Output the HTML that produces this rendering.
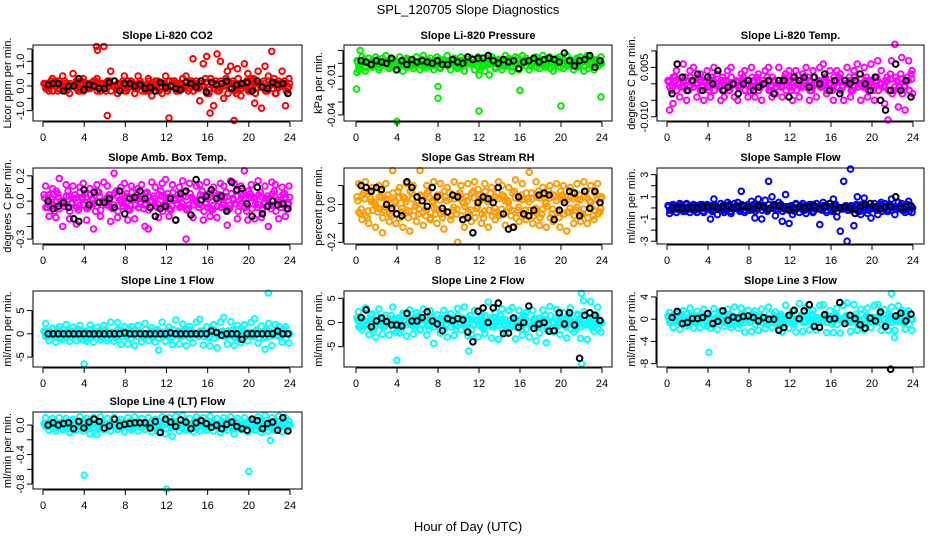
<!DOCTYPE html>
<html><head><meta charset="utf-8"><style>
html,body{margin:0;padding:0;background:#fff;}
svg{display:block;font-family:"Liberation Sans",sans-serif;}
</style></head><body>
<svg id="chart" width="936" height="540" viewBox="0 0 936 540" xmlns="http://www.w3.org/2000/svg">
<rect width="936" height="540" fill="#fff"/>
<text x="468" y="14" font-size="13" text-anchor="middle">SPL_120705  Slope Diagnostics</text>
<text x="468" y="531" font-size="13" text-anchor="middle">Hour of Day (UTC)</text>
</svg>
<script>
const xTicks = [0,4,8,12,16,20,24];
// Panel 1: CO2
const co2Main=[0.1,-0.1,0.2,0,-0.2,0.1,0.2,-0.1,0,0.1,-0.2,0.2,0.1,-0.1,0,0.2,-0.1,0.1,-0.2,0.2,0,-0.1,0.1,0.2,-0.2,0,0.1,-0.1,0.2,0,-0.2,0.1,0,0.2,-0.1,0.1,-0.2,0,0.2,-0.1,0.1,0,-0.2,0.2,0.1,-0.1,0,0.3,-0.3,0.1,0.2,-0.2,0,0.3,-0.1,0.2,-0.3,0.1,0,0.2,-0.2,0.3,-0.1,0,0.2,-0.2,0.1,0.3,-0.1,0,0.2,-0.1];
const co2Spread=[0.1,-0.2,0.3,0.2,-0.1,0.4,0.1,-0.3,0.5,0.2,-0.2,0.3,0.1,-0.1,0.2,0.3,-0.2,1.6,-1.2,0.6,0.2,-0.3,0.1,0.4,-0.1,0.2,-0.3,0.4,0.1,-0.2,0.3,-0.4,0.2,0.1,-0.3,0.4,-1.3,0.2,0.1,-0.2,0.3,0.4,-0.1,1.1,0.2,-0.6,0.9,1.2,-1.1,-0.8,1.3,1.0,-0.5,0.6,0.8,-1.4,0.7,-0.4,0.9,0.5,0.3,-0.7,0.6,-0.9,0.8,0.4,1.4,-0.3,0.2,0.6,-0.8,0.3];
const co2Black=[0.05,0.1,0.1,-0.2,0,0,0.3,-0.15,0.05,0.0,-0.1,-0.1,0.15,0.2,-0.2,0.1,0.1,0,0.05,-0.1,-0.05,-0.2,0.15,-0.05,0,-0.1,-0.15,0.15,0.1,-0.05,0.2,-0.25,0.15,0.05,0.1,0.2,-0.1,0.05,0.1,0.15,-0.2,0.2,-0.05,-0.1,0.15,0.05,0.1,-0.3];
const co2OutH=[5.2,5.3], co2OutV=[1.6,1.45];
// Panel 2: Pressure
const presMain=[0.002,-0.001,0.003,0,-0.002,0.001,0.003,-0.001,0.002,0.001,-0.003,0.002,0,-0.001,0.003,0.002,-0.002,0.001,0,0.003,-0.001,0.002,0.001,-0.002,0.003,0,0.002,-0.001,0.001,0.003,-0.002,0.002,0,0.001,-0.001,0.003,0.002,-0.002,0.001,0,0.003,-0.001,0.002,0.001,-0.002,0.003,0,0.004,-0.001,0.002,0.001,-0.002,0.003,0,0.002,-0.001,0.004,0.001,-0.002,0.003,0,0.002,-0.001,0.001,0.003,-0.002,0.002,0.004,-0.001,0.003,0.002,0];
const presSpread=[-0.005,0.005,-0.006,0.004,-0.003,0.005,-0.005,0.004,0.006,-0.004,0.003,-0.005,0.005,-0.006,0.004,0.003,-0.004,0.005,-0.005,0.006,-0.003,0.004,-0.005,0.005,-0.004,0.003,0.006,-0.005,0.004,-0.004,0.005,-0.006,0.003,0.004,-0.005,0.005,-0.003,-0.006,0.004,0.005,-0.004,0.003,-0.005,0.006,0.004,-0.006,0.005,-0.005,0.006,0.004,-0.005,0.003,0.005,-0.004,0.006,-0.003,0.005,-0.006,0.004,0.005,-0.004,0.006,0.003,-0.005,0.004,0.005,-0.006,0.006,0.004,-0.005,0.003,0.005];
const presBlack=[0.002,0.001,-0.001,0.002,0.001,0,0.004,-0.005,0.002,-0.001,0.003,0.001,0.002,0.001,0,0.002,-0.001,-0.001,0.003,0.001,0,0.005,0.003,0.004,0.004,0.006,0.002,0,0.003,0.001,0.002,-0.004,0.001,0.002,0.004,0.001,0.003,0.004,0.003,0.001,0.008,0.002,-0.002,0.002,0.003,0.006,-0.003,0.002];
const presOutH=[0.05,0.4,4.0,8.0,8.0,12.0,16.0,20.0,23.9,0.1,12.0,13.0], presOutV=[-0.020,0.010,-0.045,-0.018,-0.027,-0.037,-0.021,-0.033,-0.026,-0.007,-0.009,-0.009];
// Panel 3: Li-820 Temp
const ltMain=[0.001,-0.002,0.002,0,-0.001,0.002,-0.002,0.001,0,0.002,-0.001,0.001,-0.002,0.002,0,-0.001,0.002,0.001,-0.002,0,0.001,-0.001,0.002,0,-0.002,0.001,0.002,-0.001,0,0.002,-0.002,0.001,0,-0.001,0.002,0.001,-0.002,0.002,0,-0.001,0.001,0.002,-0.002,0,0.001,-0.001,0.002,0,-0.002,0.001,0.002,-0.001,0,0.002,-0.002,0.001,0,-0.001,0.002,0.001,-0.002,0.002,0,-0.001,0.002,0.003,-0.002,0.001,0.003,-0.001,0.002,0.003];
const ltSpread=[-0.008,-0.006,0.004,-0.004,0.006,-0.005,0.004,0.005,-0.004,0.003,-0.005,0.004,-0.004,0.005,0.003,-0.005,-0.004,0.004,0.005,-0.004,-0.005,0.003,0.004,-0.004,0.005,-0.004,0.003,-0.005,0.004,0.005,-0.004,-0.003,0.005,-0.004,0.003,0.004,-0.005,0.004,-0.004,0.003,0.005,-0.005,0.004,-0.004,0.005,0.006,-0.003,0.004,-0.005,0.004,0.003,-0.005,0.005,-0.004,0.004,0.006,-0.005,0.005,-0.004,0.006,-0.005,0.007,0.004,-0.006,-0.011,0.007,0.012,-0.007,0.008,-0.008,0.007,0.004];
const ltBlack=[-0.003,0.006,0.002,-0.002,0.001,0.003,-0.002,0.002,0,0.004,-0.002,-0.001,0,-0.003,0,0.001,-0.002,-0.001,0,0.001,-0.003,0.001,0.001,-0.004,0.002,0.001,0.002,-0.001,0.002,0,0.003,-0.002,0.001,-0.003,0.001,0,0.001,0.003,0,-0.002,0.002,-0.005,-0.008,-0.002,0.006,-0.002,0.001,-0.004];
const ltOutH=[], ltOutV=[];
// Panel 4: Amb box temp
const abMain=[0.05,-0.05,0.03,-0.08,0.06,0,-0.04,0.08,-0.02,0.05,-0.07,0.03,0.06,-0.05,0.02,-0.08,0.07,0,-0.03,0.05,-0.06,0.08,0.01,-0.04,0.06,-0.07,0.03,0.05,-0.02,-0.06,0.07,0,0.04,-0.05,0.08,-0.03,0.06,-0.07,0.02,0.05,-0.04,0.07,-0.06,0.03,0.01,-0.05,0.08,-0.02,0.06,-0.07,0.04,0.05,-0.03,0.07,-0.06,0.02,0.08,-0.04,0.05,-0.08,0.06,0.03,-0.05,0.07,-0.02,0.04,-0.06,0.08,0.01,-0.05,0.06,-0.03];
const abSpread=[0.12,-0.12,0.1,-0.13,0.18,-0.2,0.13,-0.14,0.12,-0.18,0.11,0.14,-0.15,0.1,-0.22,0.13,-0.12,0.15,0.12,-0.16,0.22,-0.13,0.11,0.14,-0.15,0.12,-0.14,0.1,0.13,-0.2,-0.22,0.15,0.11,-0.13,0.14,0.17,-0.12,0.13,-0.15,0.11,0.16,-0.3,0.14,-0.13,0.12,0.13,-0.15,0.15,-0.12,0.11,-0.13,0.14,0.12,-0.19,0.16,0.14,-0.14,0.12,0.24,-0.15,0.13,-0.14,0.16,-0.13,0.12,-0.2,0.15,0.13,-0.14,0.11,-0.12,0.12];
const abBlack=[0,-0.06,-0.04,-0.01,-0.05,-0.14,-0.16,0.09,-0.03,0.07,-0.01,-0.01,0.02,-0.05,0.08,-0.1,0.02,0.03,0.08,0.02,-0.05,-0.12,-0.06,-0.04,0.02,-0.15,0.06,0.08,-0.11,0.17,0.01,0.04,0.09,0.02,0.04,-0.08,0.15,0.09,0.1,-0.02,-0.12,0.11,-0.1,-0.04,0,-0.03,-0.02,-0.06];
const abOutH=[], abOutV=[];
// Panel 5: RH
const rhMain=[0.04,-0.05,0.06,-0.07,0.03,0.01,-0.04,0.07,-0.03,0.05,-0.06,0.02,0.07,-0.04,0.03,-0.07,0.06,-0.01,-0.05,0.04,-0.06,0.07,0.02,-0.05,0.05,-0.07,0.04,0.06,-0.03,-0.05,0.06,0.01,0.04,-0.06,0.07,-0.02,0.05,-0.07,0.03,0.06,-0.04,0.06,-0.05,0.04,0.02,-0.06,0.07,-0.03,0.05,-0.06,0.03,0.06,-0.04,0.07,-0.05,0.01,0.07,-0.05,0.04,-0.07,0.05,0.04,-0.04,0.06,-0.03,0.05,-0.05,0.07,0.02,-0.06,0.05,-0.04];
const rhSpread=[0.11,-0.08,0.12,-0.1,0.09,-0.12,0.1,-0.15,0.11,-0.09,0.18,-0.1,0.09,-0.12,0.11,-0.14,0.1,-0.09,0.18,-0.11,0.1,-0.08,0.12,-0.1,0.11,-0.13,0.09,-0.08,0.12,-0.2,0.1,-0.12,0.11,-0.09,0.12,0.08,-0.1,0.11,-0.12,0.09,-0.08,0.12,0.1,-0.11,0.09,-0.12,0.13,-0.09,0.11,-0.08,0.17,-0.1,0.12,-0.11,0.09,-0.12,0.1,-0.09,0.11,-0.12,0.1,-0.14,0.09,-0.1,0.11,-0.09,0.12,-0.1,0.1,-0.08,0.11,0.03];
const rhBlack=[0.1,0.09,0.07,0.09,0.08,0,-0.02,-0.05,-0.06,0.12,0.09,0.04,0.02,-0.01,0.09,0.04,-0.02,-0.04,0.05,0.04,-0.08,-0.07,-0.15,0.01,0.04,0.03,0.01,0.09,-0.05,-0.13,-0.12,0.04,-0.05,-0.06,-0.03,0.05,0.06,0.05,-0.08,-0.03,0.01,0.07,0.06,-0.06,0.07,-0.02,0.07,0.01];
const rhOutH=[], rhOutV=[];
// Panel 6: Sample flow
const sfMain=[0.2,-0.2,0.1,-0.1,0.3,-0.3,0.1,0.2,-0.2,0,0.3,-0.1,0.2,-0.3,0.1,0,0.2,-0.2,0.3,-0.1,0.1,-0.3,0.2,0,-0.2,0.3,-0.1,0.2,0.1,-0.3,0,0.2,-0.2,0.3,-0.1,0.1,0.2,-0.3,0,0.2,-0.2,0.1,0.3,-0.1,0,-0.2,0.2,0.1,-0.3,0.3,0,-0.1,0.2,-0.2,0.1,0.3,-0.3,0,0.2,-0.1,0.1,-0.2,0.3,0,-0.3,0.2,0.1,-0.1,0.2,-0.2,0.3,0];
const sfSpread=[-0.5,0.3,-0.4,0.4,-0.3,0.4,-0.4,0.3,-0.4,0.3,-0.4,0.3,-1.0,0.8,-0.6,0.4,-0.4,0.5,-0.5,0.4,0.5,1.5,-0.4,0.3,0.6,-0.9,0.8,-1.0,0.7,2.4,1.0,-0.7,0.5,-1.2,1.2,-1.4,-0.6,0.4,-0.4,0.4,-0.5,0.3,-0.4,0.4,-1.5,0.5,-0.4,0.4,0.8,-0.8,-2.1,2.4,-3.0,3.5,-1.6,1.0,-0.6,0.9,-0.5,-0.9,0.4,-0.6,0.5,0.4,-0.3,0.8,-0.6,0.5,0.4,-0.4,0.6,-0.4];
const sfBlack=[0,0,0,0,0,0,0.1,0.1,0.1,0,0.1,0.2,0,0.1,0.2,0.1,-0.1,0.2,0.1,-0.1,0.3,0.2,0,-0.2,0,0.1,0,0.1,0.2,-0.1,0.1,0.4,-0.1,0,0.1,0,-0.5,0.1,0.3,0.4,0.1,-0.1,0.1,0.1,1.0,0,0.1,0.2];
const sfOutH=[], sfOutV=[];
// Panel 7: Line 1 flow
const l1Main=[0.6,-0.6,0.3,-0.3,0.9,-0.9,0.3,0.6,-0.6,0,0.9,-0.3,0.6,-0.9,0.3,0,0.6,-0.6,0.9,-0.3,0.3,-0.9,0.6,0,-0.6,0.9,-0.3,0.6,0.3,-0.9,0,0.6,-0.6,0.9,-0.3,0.3,0.6,-0.9,0,0.6,-0.6,0.3,0.9,-0.3,0,-0.6,0.6,0.3,-0.9,0.9,0,-0.3,0.6,-0.6,0.3,0.9,-0.9,0,0.6,-0.3,0.3,-0.6,0.9,0,-0.9,0.6,0.3,-0.3,0.6,-0.6,0.9,0];
const l1Spread=[2.2,-1.5,1.2,-1.8,1.5,-1.2,2.0,-1.6,1.4,-1.5,1.8,-1.3,-1.6,1.9,-1.8,1.4,-1.2,1.8,-1.5,2.5,-1.6,2.4,-2.3,1.6,-2.2,1.5,-2.5,1.8,-1.7,2.2,-1.5,1.3,-1.8,-3.5,2.5,-1.6,1.4,-2.3,3.0,-2.2,2.1,-2.5,1.6,-1.9,2.5,3.1,-2.4,1.5,-2.6,2.0,-3.0,2.5,3.5,-2.2,2.6,-2.5,1.8,-1.9,2.0,-1.5,2.5,3.2,-2.0,1.7,-3.3,2.2,-2.5,2.0,1.6,-1.8,1.5,-2.0];
const l1Black=[0,0,0,0,0,0,0,0,0,0,0,0,0,0,0,0.2,0,0,0,0,0,0,0,0,0.2,0,0,0,0,0,0,0,0.6,0.3,-0.3,0,0,0,-1.2,0,0,0,0,0,0,0.6,0,0];
const l1OutH=[4.0,21.9], l1OutV=[-6.5,8.8];
// Panel 8: Line 2 flow
const l2Main=[0.9,-0.9,0.5,-0.5,1.4,-1.4,0.5,0.9,-0.9,0,1.4,-0.5,0.9,-1.4,0.5,0,0.9,-0.9,1.4,-0.5,0.5,-1.4,0.9,0,-0.9,1.4,-0.5,0.9,0.5,-1.4,0,0.9,-0.9,1.4,-0.5,0.5,0.9,-1.4,0,0.9,-0.9,0.5,1.4,-0.5,0,-0.9,0.9,0.5,-1.4,1.4,0,-0.5,0.9,-0.9,0.5,1.4,-1.4,0,0.9,-0.5,0.5,-0.9,1.4,0,-1.4,0.9,0.5,-0.5,0.9,-0.9,1.4,0];
const l2Spread=[2.2,-1.5,3.0,-2.5,1.8,-3.0,2.8,-2.4,1.5,-2.6,3.2,-2.0,-2.2,1.9,-2.8,2.6,-2.4,2.0,-1.5,2.8,-2.6,2.4,-4.3,1.6,-2.2,2.5,-3.0,1.8,-2.7,2.9,-1.5,3.2,-2.8,-2.5,2.5,-3.0,1.4,-2.3,4.2,-3.2,2.1,-3.5,2.8,-1.9,2.5,3.1,-3.4,2.5,-2.6,2.0,-3.0,2.5,-3.8,-2.2,2.6,-4.2,3.3,-1.9,2.7,-2.5,2.0,-3.2,3.0,-2.0,1.7,-3.3,2.2,-3.5,4.3,-1.8,3.2,-2.0];
const l2Black=[1.0,2.6,-0.9,0.3,0.9,0.2,-0.5,-0.5,-0.7,1.9,0.3,0.3,1.0,2.2,0.3,-0.3,-1.7,0.8,0.4,0.8,0.5,-2.0,-4.0,2.3,3.0,0,3.0,4.0,-2.3,-2.2,0.9,-1.0,0,3.4,-1.2,-0.3,0,-1.8,-1.7,2.0,-0.3,2.0,-0.5,-7.4,1.5,2.0,1.5,0.4];
const l2OutH=[4.0,11.0,22.0,22.0,22.2], l2OutV=[-7.8,-5.9,6.0,-8.5,4.5];
// Panel 9: Line 3 flow
const l3Main=[0.6,-0.6,0.3,-0.3,0.9,-0.9,0.3,0.6,-0.6,0,0.9,-0.3,0.6,-0.9,0.3,0,0.6,-0.6,0.9,-0.3,0.3,-0.9,0.6,0,-0.6,0.9,-0.3,0.6,0.3,-0.9,0,0.6,-0.6,0.9,-0.3,0.3,0.6,-0.9,0,0.6,-0.6,0.3,0.9,-0.3,0,-0.6,0.6,0.3,-0.9,0.9,0,-0.3,0.6,-0.6,0.3,0.9,-0.9,0,0.6,-0.3,0.3,-0.6,0.9,0,-0.9,0.6,0.3,-0.3,0.6,-0.6,0.9,0];
const l3Spread=[1.2,-1.5,1.0,-1.8,1.5,-1.2,2.0,-1.6,1.4,-1.5,1.8,-1.3,-1.6,1.9,-1.8,1.4,-1.2,1.8,-1.5,2.2,-1.6,2.0,-2.3,1.6,-2.2,1.5,-2.0,1.8,-1.7,2.2,-1.5,1.3,-1.8,-2.3,2.5,-1.6,1.4,-2.3,2.8,-2.2,2.1,-1.9,1.6,-1.9,2.5,2.6,-2.4,1.5,-2.4,2.0,-2.5,2.5,2.9,-2.2,2.6,-2.0,1.8,-1.9,2.0,-1.5,2.5,2.6,-2.0,1.7,-2.0,2.2,-2.0,2.4,1.6,-1.8,1.5,-2.0];
const l3Black=[0.3,1.4,-0.8,-0.6,0.1,0.1,0.3,1.0,-0.8,-0.4,1.5,-0.2,0.4,0.2,0.5,0.6,0.3,-0.3,0.3,0,0,-2.0,-1.5,0.7,1.6,0.1,1.5,2.6,-1.3,-1.5,0.8,0,0.1,3.0,-0.8,0.7,0.1,-1.0,-1.6,0.2,-0.3,1.3,-1.3,-9.0,0.6,1.1,-0.3,0.9];
const l3OutH=[4.1,21.9,22.2], l3OutV=[-6.0,4.6,-3.3];
// Panel 10: Line 4 (LT) flow
const l4Main=[0.02,-0.02,0.04,0,-0.03,0.03,-0.01,0.05,-0.04,0.02,0,-0.03,0.04,-0.02,0.03,0.01,-0.04,0.05,0,-0.02,0.03,-0.03,0.04,0.01,-0.02,0.05,-0.04,0.02,0.03,-0.01,0,0.04,-0.03,0.02,-0.02,0.05,0.01,-0.04,0.03,0,-0.03,0.04,0.02,-0.02,0.05,-0.03,0.01,0.03,-0.04,0.02,0,-0.02,0.05,-0.01,0.03,-0.04,0.04,0,-0.03,0.02,0.05,-0.02,0.01,-0.04,0.03,0.02,-0.03,0.05,0,-0.02,0.04,0.01];
const l4Spread=[0.1,-0.07,0.09,-0.08,0.1,-0.06,0.09,-0.1,0.08,-0.07,0.11,-0.08,0.09,-0.12,0.1,-0.13,0.11,-0.07,0.09,-0.08,0.1,-0.06,0.08,-0.09,0.1,-0.07,0.11,-0.08,0.09,-0.06,0.1,-0.09,0.08,-0.1,0.11,-0.12,0.1,-0.15,0.12,-0.08,0.13,-0.07,0.09,-0.09,0.11,-0.08,0.1,-0.07,0.12,-0.08,0.09,-0.1,0.1,-0.07,0.11,-0.12,0.09,-0.06,0.1,-0.09,0.08,-0.07,0.11,-0.1,0.13,-0.08,0.1,-0.07,0.12,-0.09,0.1,0.05];
const l4Black=[0,0.03,0,0.02,0.03,-0.05,0.05,-0.04,0.04,0.08,0.05,-0.04,-0.01,0.08,-0.01,0.01,0.02,0.03,0.03,0.03,-0.04,0.05,-0.1,0.08,0.04,-0.02,0.07,0.04,-0.05,0.03,0.06,0.02,-0.03,0,-0.05,0.01,0.04,-0.02,-0.05,-0.07,0.08,0.06,-0.05,0.02,0.04,-0.07,0.1,-0.08];
const l4OutH=[4.0,12.0,20.0,22.1], l4OutV=[-0.68,-0.87,-0.63,-0.21];

const cols=[{x0:43,x24:290,L:33,R:302},{x0:356,x24:602,L:344,R:612},{x0:667,x24:913,L:657,R:924}];
const rows=[{T:45,B:121,title:35},{T:168,B:244,title:157},{T:291,B:367,title:280},{T:412,B:489,title:401}];
const panels=[
 {name:'co2',title:'Slope Li-820 CO2',ylab:'Licor ppm per min.',c:0,r:0,color:'#ff0000',top:1.66,bot:-1.42,ticks:[1.5,1,0.5,0,-0.5,-1],labels:{'1':'1.0','0':'0.0','-1':'-1.0'},main:co2Main,spread:co2Spread,black:co2Black,oh:co2OutH,ov:co2OutV},
 {name:'pressure',title:'Slope Li-820 Pressure',ylab:'kPa per min.',c:1,r:0,color:'#00ee00',top:0.0142,bot:-0.0447,ticks:[0.01,0,-0.01,-0.02,-0.03,-0.04],labels:{'-0.01':'-0.01','-0.04':'-0.04'},main:presMain,spread:presSpread,black:presBlack,oh:presOutH,ov:presOutV},
 {name:'li820-temp',title:'Slope Li-820 Temp.',ylab:'degrees C per min.',c:2,r:0,color:'#ff00ff',top:0.0118,bot:-0.0113,ticks:[0.01,0.005,0,-0.005,-0.01],labels:{'0.005':'0.005','-0.01':'-0.010'},main:ltMain,spread:ltSpread,black:ltBlack,oh:ltOutH,ov:ltOutV},
 {name:'amb-box-temp',title:'Slope Amb. Box Temp.',ylab:'degrees C per min.',c:0,r:1,color:'#ff00ff',top:0.262,bot:-0.339,ticks:[0.2,0.1,0,-0.1,-0.2,-0.3],labels:{'0.2':'0.2','0':'0.0','-0.3':'-0.3'},main:abMain,spread:abSpread,black:abBlack,oh:abOutH,ov:abOutV},
 {name:'gas-stream-rh',title:'Slope Gas Stream RH',ylab:'percent per min.',c:1,r:1,color:'#ff9a00',top:0.193,bot:-0.209,ticks:[0.1,0,-0.1,-0.2],labels:{'0':'0.0','-0.2':'-0.2'},main:rhMain,spread:rhSpread,black:rhBlack,oh:rhOutH,ov:rhOutV},
 {name:'sample-flow',title:'Slope Sample Flow',ylab:'ml/min per min.',c:2,r:1,color:'#0000ff',top:3.6,bot:-3.25,ticks:[3,2,1,0,-1,-2,-3],labels:{'3':'3','1':'1','-1':'-1','-3':'-3'},main:sfMain,spread:sfSpread,black:sfBlack,oh:sfOutH,ov:sfOutV},
 {name:'line1-flow',title:'Slope Line 1 Flow',ylab:'ml/min per min.',c:0,r:2,color:'#00ffff',top:9.2,bot:-7.13,ticks:[5,0,-5],labels:{'5':'5','0':'0','-5':'-5'},main:l1Main,spread:l1Spread,black:l1Black,oh:l1OutH,ov:l1OutV},
 {name:'line2-flow',title:'Slope Line 2 Flow',ylab:'ml/min per min.',c:1,r:2,color:'#00ffff',top:6.5,bot:-9.2,ticks:[5,0,-5],labels:{'5':'5','0':'0','-5':'-5'},main:l2Main,spread:l2Spread,black:l2Black,oh:l2OutH,ov:l2OutV},
 {name:'line3-flow',title:'Slope Line 3 Flow',ylab:'ml/min per min.',c:2,r:2,color:'#00ffff',top:5.07,bot:-8.6,ticks:[4,0,-4,-8],labels:{'4':'4','0':'0','-4':'-4','-8':'-8'},main:l3Main,spread:l3Spread,black:l3Black,oh:l3OutH,ov:l3OutV},
 {name:'line4-flow',title:'Slope Line 4 (LT) Flow',ylab:'ml/min per min.',c:0,r:3,color:'#00ffff',top:0.177,bot:-0.867,ticks:[0,-0.2,-0.4,-0.6,-0.8],labels:{'0':'0.0','-0.4':'-0.4','-0.8':'-0.8'},main:l4Main,spread:l4Spread,black:l4Black,oh:l4OutH,ov:l4OutV}
];
const NS='http://www.w3.org/2000/svg';
const svg=document.getElementById('chart');
function mk(tag,attrs,parent){const e=document.createElementNS(NS,tag);for(const k in attrs)e.setAttribute(k,attrs[k]);parent.appendChild(e);return e;}
panels.forEach(p=>{
  const C=cols[p.c],Rw=rows[p.r];
  const sx=h=>C.x0+(C.x24-C.x0)*h/24;
  const sy=v=>Rw.T+(p.top-v)/(p.top-p.bot)*(Rw.B-Rw.T);
  const g=mk('g',{},svg);
  
  
  const t=mk('text',{x:(C.L+C.R)/2,y:Rw.title+4,'font-size':11,'font-weight':'bold','text-anchor':'middle'},g);
  t.textContent=p.title;
  
  
  const pts=mk('g',{fill:'none','stroke-width':2},g);
  
  
  const drawSeries=(vals,color,h0,h1,sign,r)=>{
    vals.forEach((v,i)=>{
      const h=vals.length>1?h0+(h1-h0)*i/(vals.length-1):h0;
      const c=mk('circle',{cx:sx(h).toFixed(1),cy:sy(sign*v).toFixed(1),r:r,stroke:color},pts);
      
      
    });
  };
  drawSeries(p.spread,p.color,0.25,23.9,1,2.8);
  drawSeries(p.main,p.color,0.1,23.8,1,2.8);
  drawSeries(p.main,p.color,0.27,23.97,-1,2.8);
  drawSeries(p.main,p.color,0.18,23.88,0.5,2.8);
  p.oh.forEach((h,i)=>{
    const c=mk('circle',{cx:sx(h).toFixed(1),cy:sy(p.ov[i]).toFixed(1),r:2.8,stroke:p.color},pts);
    
    
  });
  drawSeries(p.black,'#000',0.5,23.8,1,2.8);
  const box=mk('rect',{x:C.L,y:Rw.T,width:C.R-C.L,height:Rw.B-Rw.T,fill:'none',stroke:'#000','stroke-width':1},g);
  
  
  const xa=mk('g',{},g);
  
  
  mk('line',{x1:sx(xTicks[0]),x2:sx(xTicks[xTicks.length-1]),y1:Rw.B+1,y2:Rw.B+1,stroke:'#000'},xa);
  xTicks.forEach(h=>{
    mk('line',{x1:sx(h),x2:sx(h),y1:Rw.B+1,y2:Rw.B+6,stroke:'#000'},xa);
    const tl=mk('text',{x:sx(h),y:Rw.B+20,'font-size':11,'text-anchor':'middle'},xa);
    tl.textContent=h;
    
    
  });
  const ya=mk('g',{},g);
  
  
  const ys=p.ticks.map(sy);
  mk('line',{x1:C.L-1,x2:C.L-1,y1:Math.min(...ys),y2:Math.max(...ys),stroke:'#000'},ya);
  p.ticks.forEach(v=>{
    const y=sy(v);
    mk('line',{x1:C.L-6,x2:C.L-1,y1:y,y2:y,stroke:'#000'},ya);
    const lab=p.labels[String(v)];
    if(lab!==undefined){
      const tl=mk('text',{x:C.L-9,y:y,'font-size':11,'text-anchor':'middle',transform:`rotate(-90 ${C.L-9} ${y})`},ya);
      tl.textContent=lab;
      
      
    }
  });
  const cy=(Rw.T+Rw.B)/2;
  const yl=mk('text',{x:C.L-22,y:cy,'font-size':11,'text-anchor':'middle',transform:`rotate(-90 ${C.L-22} ${cy})`},g);
  yl.textContent=p.ylab;
  
  
});
</script>
</body></html>
